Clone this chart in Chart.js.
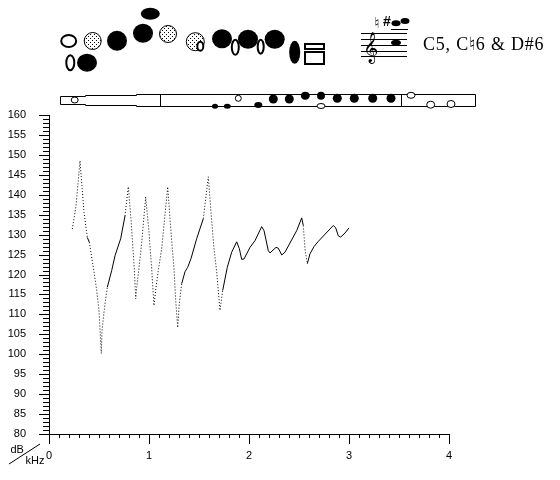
<!DOCTYPE html>
<html>
<head>
<meta charset="utf-8">
<style>
  html, body { margin: 0; padding: 0; background: #fff; }
  canvas { display: block; }
</style>
<script src="https://cdn.jsdelivr.net/npm/chart.js@4/dist/chart.umd.min.js"></script>
</head>
<body>
<canvas id="chart" width="560" height="480"></canvas>
<script>
// Curve
const freqKHz = [0.233, 0.27, 0.31, 0.35, 0.383, 0.403, 0.453, 0.477, 0.5, 0.523, 0.53, 0.56, 0.583, 0.627, 0.66, 0.717, 0.76, 0.793,
  0.82, 0.853, 0.867, 0.877, 0.897, 0.927, 0.967, 1.0, 1.027, 1.05, 1.07, 1.093, 1.127, 1.187, 1.22, 1.25, 1.267, 1.287,
  1.303, 1.327, 1.36, 1.387, 1.42, 1.477, 1.543, 1.593, 1.62, 1.65, 1.677, 1.71, 1.737, 1.783, 1.827, 1.877, 1.903, 1.927, 1.95,
  2.01, 2.06, 2.127, 2.15, 2.193, 2.21, 2.27, 2.293, 2.327, 2.36, 2.477, 2.527, 2.543, 2.56, 2.583, 2.61, 2.65, 2.693, 2.843,
  2.867, 2.893, 2.917, 2.96, 3.0];
const levelDb = [131.4, 137.2, 148.5, 135.6, 129.3, 128.1, 120.2, 116, 111, 100.2, 106, 112.7, 116.8, 121, 124.7, 129, 134.7, 142,
  133.9, 121.4, 113.9, 116.8, 121, 128, 139.5, 130.6, 121.4, 112.2, 116.8, 121, 126.5, 142, 130.6, 121.4, 113.5, 106.7,
  112.7, 117.7, 120.7, 121.8, 124, 129, 134, 144.5, 135.6, 126.5, 120.6, 111, 116, 121.8, 125.6, 128.2, 126.5, 123.8, 123.9,
  126.8, 128.5, 132, 131, 126, 125.4, 126.8, 126.6, 124.9, 125.6, 131, 134.2, 132.3, 126.4, 122.7, 125.2, 127, 128.3, 132.3,
  131.7, 129.7, 129.4, 130.4, 131.7];

const xMajorStep = 1, xMinorStep = 0.1;
const yMajorStep = 5, yMinorStep = 1;
const noteLabel = 'C5, C\u266E6 & D#6';

const AXIS_FONT = '11px "Liberation Sans", Arial, sans-serif';

function stipple(ctx) {
    const c = document.createElement('canvas');
    c.width = 4; c.height = 4;
    const p = c.getContext('2d');
    p.fillStyle = '#fff';
    p.fillRect(0, 0, 4, 4);
    p.fillStyle = '#000';
    p.fillRect(0, 0, 1, 1);
    p.fillRect(2, 2, 1, 1);
    return ctx.createPattern(c, 'repeat');
}

function hole(ctx, x, y, rx, ry, kind) {
    ctx.beginPath();
    ctx.ellipse(x, y, rx, ry, 0, 0, Math.PI * 2);
    if (kind === 'fill') {
        ctx.fillStyle = '#000';
        ctx.fill();
    } else if (kind === 'dots') {
        ctx.fillStyle = stipple(ctx);
        ctx.fill();
        ctx.lineWidth = 1;
        ctx.strokeStyle = '#000';
        ctx.stroke();
    } else {
        ctx.fillStyle = '#fff';
        ctx.fill();
        ctx.lineWidth = kind === 'thin' ? 1 : 2;
        ctx.strokeStyle = '#000';
        ctx.stroke();
    }
}

// Minor and major tick marks, taken from the scales
const tickMarks = {
    id: 'tickMarks',
    afterDraw(chart) {
        const { ctx, scales: { x, y } } = chart;
        ctx.save();
        ctx.strokeStyle = '#000';
        ctx.lineWidth = 1;
        ctx.beginPath();
        const nx = Math.round((x.max - x.min) / xMinorStep);
        for (let i = 0; i <= nx; i++) {
            const px = Math.round(x.getPixelForValue(x.min + i * xMinorStep)) + 0.5;
            const len = i % Math.round(xMajorStep / xMinorStep) === 0 ? 10 : 4;
            ctx.moveTo(px, x.top);
            ctx.lineTo(px, x.top + len);
        }
        const ny = Math.round((y.max - y.min) / yMinorStep);
        for (let i = 0; i <= ny; i++) {
            const py = Math.round(y.getPixelForValue(y.min + i * yMinorStep)) + 0.5;
            const len = i % Math.round(yMajorStep / yMinorStep) === 0 ? 10 : 6;
            ctx.moveTo(y.right, py);
            ctx.lineTo(y.right - len, py);
        }
        ctx.stroke();
        ctx.restore();
    }
};

// Fingering sketch, flute outline, staff and the unit label
const decorations = {
    id: 'decorations',
    afterDraw(chart) {
        const ctx = chart.ctx;
        ctx.save();

        // fingering holes
        hole(ctx, 68.7, 41, 7.5, 6, 'open');
        hole(ctx, 92.7, 41, 8.5, 8.5, 'dots');
        hole(ctx, 117, 40.7, 10, 10, 'fill');
        hole(ctx, 143, 33.3, 10, 9.5, 'fill');
        hole(ctx, 150.3, 13.7, 9.5, 6, 'fill');
        hole(ctx, 168, 34, 8.5, 8.5, 'dots');
        hole(ctx, 195.3, 41.7, 9, 9, 'dots');
        hole(ctx, 200.3, 46.3, 3, 4.5, 'open');
        hole(ctx, 222, 38.7, 10, 9.5, 'fill');
        hole(ctx, 248, 39.3, 10, 9.5, 'fill');
        hole(ctx, 235.3, 47.3, 3.5, 7.5, 'open');
        hole(ctx, 274.7, 39.3, 10, 9.5, 'fill');
        hole(ctx, 260.7, 46.7, 3, 7, 'open');
        hole(ctx, 294.7, 52.3, 5.5, 11.5, 'fill');
        hole(ctx, 70.3, 62.7, 4, 7.5, 'open');
        hole(ctx, 87, 62.7, 10, 9, 'fill');

        ctx.strokeStyle = '#000';
        ctx.lineWidth = 2;
        ctx.strokeRect(305, 44, 19, 5);
        ctx.strokeRect(305, 52, 19, 12);

        // flute outline
        ctx.lineWidth = 1;
        ctx.beginPath();
        ctx.moveTo(60.5, 96.5);
        ctx.lineTo(85.5, 96.5);
        ctx.lineTo(85.5, 95.5);
        ctx.lineTo(136.5, 95.5);
        ctx.lineTo(136.5, 94.5);
        ctx.lineTo(475.5, 94.5);
        ctx.lineTo(475.5, 106.5);
        ctx.lineTo(136.5, 106.5);
        ctx.lineTo(136.5, 105.5);
        ctx.lineTo(85.5, 105.5);
        ctx.lineTo(85.5, 104.5);
        ctx.lineTo(60.5, 104.5);
        ctx.closePath();
        ctx.moveTo(160.5, 94.5);
        ctx.lineTo(160.5, 106.5);
        ctx.moveTo(401.5, 94.5);
        ctx.lineTo(401.5, 106.5);
        ctx.stroke();

        hole(ctx, 74.7, 100, 3.5, 3, 'thin');
        hole(ctx, 215, 106.3, 3, 2.5, 'fill');
        hole(ctx, 227.3, 106.3, 3.5, 2.5, 'fill');
        hole(ctx, 238.3, 98.3, 3, 3, 'thin');
        hole(ctx, 258.3, 105, 4, 3, 'fill');
        hole(ctx, 273.3, 99, 4.5, 4.5, 'fill');
        hole(ctx, 289.3, 99, 4.5, 4.5, 'fill');
        hole(ctx, 305.3, 95.7, 4.5, 4, 'fill');
        hole(ctx, 321, 95.7, 4, 4, 'fill');
        hole(ctx, 321, 106, 4, 2.5, 'thin');
        hole(ctx, 337.3, 98.3, 4.5, 4.5, 'fill');
        hole(ctx, 354.3, 98.3, 4.5, 4.5, 'fill');
        hole(ctx, 372.7, 98.3, 4.5, 4.5, 'fill');
        hole(ctx, 391, 98.3, 4.5, 4.5, 'fill');
        hole(ctx, 411, 95.3, 4, 3, 'thin');
        hole(ctx, 430.7, 104.7, 4, 3.5, 'thin');
        hole(ctx, 451, 104, 4, 3.5, 'thin');

        // staff
        ctx.lineWidth = 1;
        ctx.beginPath();
        [33.5, 39.5, 45.5, 51.5, 56.5].forEach(y => {
            ctx.moveTo(361, y);
            ctx.lineTo(407, y);
        });
        ctx.moveTo(391, 29.5);
        ctx.lineTo(408, 29.5);
        ctx.stroke();
        hole(ctx, 396, 42.7, 5, 3, 'fill');
        hole(ctx, 396, 23.3, 4.5, 3, 'fill');
        hole(ctx, 405, 21, 4.5, 3, 'fill');

        ctx.fillStyle = '#000';
        ctx.textBaseline = 'alphabetic';
        ctx.textAlign = 'center';
        ctx.font = '26px "DejaVu Sans", sans-serif';
        ctx.fillText('\u{1D11E}', 370.5, 56);
        ctx.font = '15px "DejaVu Sans", sans-serif';
        ctx.fillText('\u266E', 377, 28);
        ctx.font = 'bold 14px "Liberation Sans", sans-serif';
        ctx.fillText('#', 387, 26);

        ctx.textAlign = 'left';
        ctx.font = '18px "Liberation Serif", serif';
        ctx.letterSpacing = '0.8px';
        ctx.fillText(noteLabel, 423, 50);
        ctx.letterSpacing = '0px';

        // dB / kHz corner label
        ctx.font = AXIS_FONT;
        ctx.fillText('dB', 10.5, 453);
        ctx.fillText('kHz', 25.5, 464);
        ctx.beginPath();
        ctx.moveTo(9, 464);
        ctx.lineTo(40, 444);
        ctx.stroke();

        ctx.restore();
    }
};

new Chart(document.getElementById('chart'), {
    type: 'line',
    data: {
        datasets: [{
            data: freqKHz.map((f, i) => ({ x: f, y: levelDb[i] })),
            borderColor: '#000',
            borderWidth: 1,
            pointRadius: 0,
            tension: 0,
            segment: {
                // steep stretches come out as separate dots in the original
                borderDash: c => {
                    const slope = Math.abs((c.p1.parsed.y - c.p0.parsed.y) / (c.p1.parsed.x - c.p0.parsed.x));
                    return slope > 140 ? [1, 2] : undefined;
                }
            }
        }]
    },
    options: {
        responsive: false,
        animation: false,
        events: [],
        layout: { padding: { left: 0, top: 115, right: 111, bottom: 0 } },
        plugins: { legend: { display: false }, tooltip: { enabled: false }, title: { display: false } },
        scales: {
            x: {
                type: 'linear',
                min: 0,
                max: 4,
                afterFit: s => { s.height = 46; },
                grid: { drawOnChartArea: false, drawTicks: false },
                border: { color: '#000', width: 1 },
                ticks: {
                    stepSize: xMajorStep,
                    padding: 15,
                    maxRotation: 0,
                    color: '#000',
                    font: { family: '"Liberation Sans", Arial, sans-serif', size: 11 }
                }
            },
            y: {
                min: 80,
                max: 160,
                afterFit: s => { s.width = 49; },
                grid: { drawOnChartArea: false, drawTicks: false },
                border: { color: '#000', width: 1 },
                ticks: {
                    stepSize: yMajorStep,
                    padding: 23,
                    color: '#000',
                    font: { family: '"Liberation Sans", Arial, sans-serif', size: 11 }
                }
            }
        }
    },
    plugins: [tickMarks, decorations]
});
</script>
</body>
</html>
